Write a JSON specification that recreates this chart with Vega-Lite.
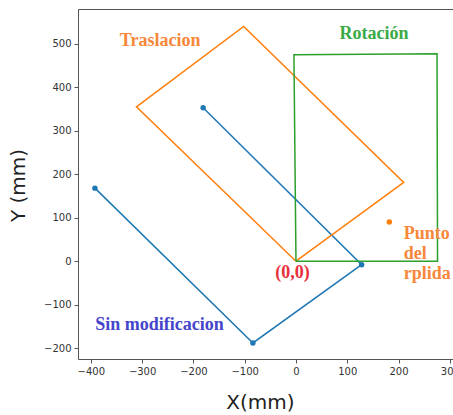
{
  "$schema": "https://vega.github.io/schema/vega-lite/v6.json",
  "width": 378,
  "height": 350,
  "autosize": {"type": "none"},
  "padding": {"left": 78, "top": 9, "right": 0, "bottom": 56},
  "background": "white",
  "config": {
    "view": {"stroke": "#555", "strokeWidth": 1},
    "axis": {
      "grid": false, "domain": false, "tickColor": "#555", "tickSize": 4,
      "labelFont": "DejaVu Sans", "labelFontSize": 10, "labelColor": "#333", "labelPadding": 3,
      "titleFont": "DejaVu Sans", "titleFontSize": 20, "titleFontWeight": "normal", "titleColor": "#222"
    }
  },
  "datasets": {
    "shapes": [
      {"series": "Sin modificacion", "ord": 1, "x": -392, "y": 168},
      {"series": "Sin modificacion", "ord": 2, "x": -84, "y": -188},
      {"series": "Sin modificacion", "ord": 3, "x": 128, "y": -8},
      {"series": "Sin modificacion", "ord": 4, "x": -181, "y": 353},
      {"series": "Traslacion", "ord": 1, "x": 0, "y": 0},
      {"series": "Traslacion", "ord": 2, "x": 210, "y": 181},
      {"series": "Traslacion", "ord": 3, "x": -102, "y": 540},
      {"series": "Traslacion", "ord": 4, "x": -311, "y": 355},
      {"series": "Traslacion", "ord": 5, "x": 0, "y": 0},
      {"series": "Rotacion", "ord": 1, "x": 0, "y": 0},
      {"series": "Rotacion", "ord": 2, "x": 276, "y": 0},
      {"series": "Rotacion", "ord": 3, "x": 275, "y": 477},
      {"series": "Rotacion", "ord": 4, "x": -4, "y": 475},
      {"series": "Rotacion", "ord": 5, "x": 0, "y": 0}
    ],
    "dots": [
      {"series": "Sin modificacion", "x": -392, "y": 168},
      {"series": "Sin modificacion", "x": -84, "y": -188},
      {"series": "Sin modificacion", "x": 128, "y": -8},
      {"series": "Sin modificacion", "x": -181, "y": 353},
      {"series": "Punto", "x": 182, "y": 90}
    ],
    "labels": [
      {"label": "Traslacion", "kind": "orange", "x": -265, "y": 507},
      {"label": "Rotación", "kind": "green", "x": 152, "y": 522},
      {"label": "Sin modificacion", "kind": "blue", "x": -266, "y": -146},
      {"label": "(0,0)", "kind": "red", "x": -7, "y": -27},
      {"label": "Punto\ndel\nrplida", "kind": "orange2", "x": 210, "y": 62}
    ]
  },
  "layer": [
    {
      "data": {"name": "shapes"},
      "mark": {"type": "line", "strokeWidth": 1.5, "clip": true},
      "encoding": {
        "x": {"field": "x", "type": "quantitative", "title": "X(mm)",
              "scale": {"domain": [-425, 312], "nice": false, "zero": false},
              "axis": {"values": [-400, -300, -200, -100, 0, 100, 200, 300], "titleX": 182, "titleY": 43, "titleBaseline": "middle"}},
        "y": {"field": "y", "type": "quantitative", "title": "Y (mm)",
              "scale": {"domain": [-225, 580], "nice": false, "zero": false},
              "axis": {"values": [-200, -100, 0, 100, 200, 300, 400, 500], "titleX": -60, "titleY": 176, "titleBaseline": "middle", "titleAngle": -90, "titleAlign": "center"}},
        "detail": {"field": "series"},
        "order": {"field": "ord", "type": "quantitative"},
        "color": {"field": "series", "type": "nominal", "legend": null,
                  "scale": {"domain": ["Sin modificacion", "Traslacion", "Rotacion", "Punto"], "range": ["#1f77b4", "#ff7f0e", "#2ca02c", "#ff7f0e"]}}
      }
    },
    {
      "data": {"name": "dots"},
      "mark": {"type": "point", "filled": true, "opacity": 1, "size": 30},
      "encoding": {
        "x": {"field": "x", "type": "quantitative"},
        "y": {"field": "y", "type": "quantitative"},
        "color": {"field": "series", "type": "nominal", "legend": null,
                  "scale": {"domain": ["Sin modificacion", "Traslacion", "Rotacion", "Punto"], "range": ["#1f77b4", "#ff7f0e", "#2ca02c", "#ff7f0e"]}}
      }
    },
    {
      "data": {"name": "labels"},
      "transform": [{"filter": "datum.kind != 'orange2'"}],
      "mark": {"type": "text", "font": "Liberation Serif", "fontWeight": "bold", "fontSize": 18, "align": "center", "baseline": "middle"},
      "encoding": {
        "x": {"field": "x", "type": "quantitative"},
        "y": {"field": "y", "type": "quantitative"},
        "text": {"field": "label"},
        "color": {"field": "kind", "type": "nominal", "legend": null,
                  "scale": {"domain": ["orange", "green", "blue", "red", "orange2"], "range": ["#f7873a", "#3aaa48", "#4545cc", "#e8303c", "#f7873a"]}}
      }
    },
    {
      "data": {"name": "labels"},
      "transform": [{"filter": "datum.kind == 'orange2'"}],
      "mark": {"type": "text", "font": "Liberation Serif", "fontWeight": "bold", "fontSize": 18, "align": "left", "baseline": "middle", "lineBreak": "\n", "lineHeight": 20},
      "encoding": {
        "x": {"field": "x", "type": "quantitative"},
        "y": {"field": "y", "type": "quantitative"},
        "text": {"field": "label"},
        "color": {"field": "kind", "type": "nominal", "legend": null,
                  "scale": {"domain": ["orange", "green", "blue", "red", "orange2"], "range": ["#f7873a", "#3aaa48", "#4545cc", "#e8303c", "#f7873a"]}}
      }
    }
  ],
  "resolve": {"scale": {"color": "independent"}}
}
